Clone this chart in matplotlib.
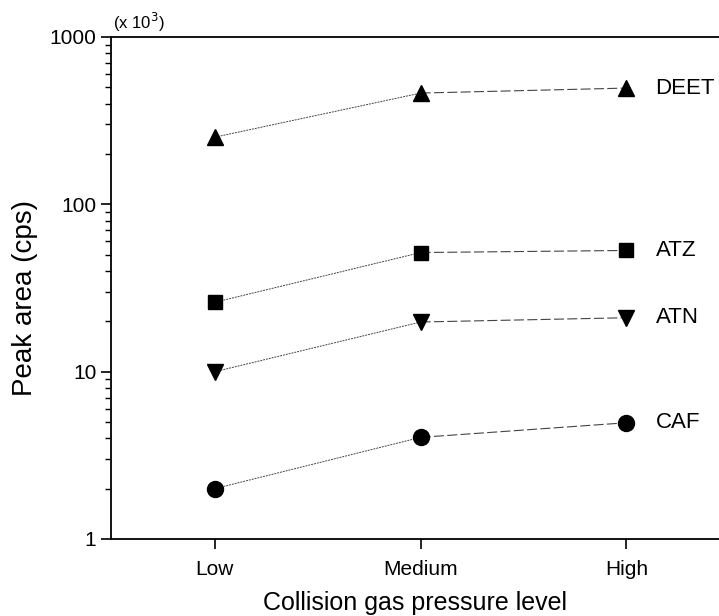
import numpy as np
import matplotlib.pyplot as plt
from matplotlib.ticker import LogLocator, NullFormatter, FixedLocator

plt.rcParams['font.family'] = ['Liberation Sans', 'DejaVu Sans']

levels = ['Low', 'Medium', 'High']
compounds = ['DEET', 'ATZ', 'ATN', 'CAF']
markers = ['^', 's', 'v', 'o']
marker_sizes = [12, 10, 12, 11.5]

# peak areas in units of 10^3 cps
deet = [252, 462, 495]
atz = [26, 51.5, 53]
atn = [10, 19.8, 21]
caf = [2.0, 4.05, 4.95]
series = [deet, atz, atn, caf]

fig = plt.figure(figsize=(7.19, 6.16), dpi=100)
ax = fig.add_axes([0.1544, 0.125, 0.8456, 0.815])

x = np.arange(len(levels))
for name, vals, mk, ms in zip(compounds, series, markers, marker_sizes):
    # low -> medium drawn with fine dashes, medium -> high with long dashes
    ax.plot(x[:2], vals[:2], color='#444444', lw=0.7, dashes=(2, 1))
    ax.plot(x[1:], vals[1:], color='#444444', lw=0.8, dashes=(9, 3))
    ax.plot(x, vals, ls='none', marker=mk, ms=ms, color='black')
    ax.annotate(name, (x[-1], vals[-1]), xytext=(21, 0), textcoords='offset points',
                va='center', ha='left', fontsize=16)

ax.set_yscale('log')
ax.set_ylim(1, 1000)
ax.set_xlim(-0.505, 2.45)

ax.yaxis.set_major_locator(FixedLocator([1, 10, 100, 1000]))
ax.set_yticklabels(['1', '10', '100', '1000'])
ax.yaxis.set_minor_locator(LogLocator(base=10, subs=np.arange(2, 10)))
ax.yaxis.set_minor_formatter(NullFormatter())
ax.set_xticks(x)
ax.set_xticklabels(levels)

ax.tick_params(axis='both', which='major', direction='out', length=7, width=1.2,
               labelsize=15, colors='black')
ax.tick_params(axis='x', which='major', pad=8)
ax.tick_params(axis='y', which='minor', direction='out', length=4, width=1.0)
ax.tick_params(axis='x', which='minor', length=0)

for side in ['left', 'bottom', 'top']:
    ax.spines[side].set_linewidth(1.3)
ax.spines['right'].set_visible(False)

ax.set_xlabel('Collision gas pressure level', fontsize=18, labelpad=9)
ax.set_ylabel('Peak area (cps)', fontsize=20)
ax.yaxis.set_label_coords(-0.12, 0.48)
ax.text(0.004, 1.005, r'(x 10$^3$)', transform=ax.transAxes, fontsize=12,
        ha='left', va='bottom')

fig.savefig('out.png', dpi=100)
